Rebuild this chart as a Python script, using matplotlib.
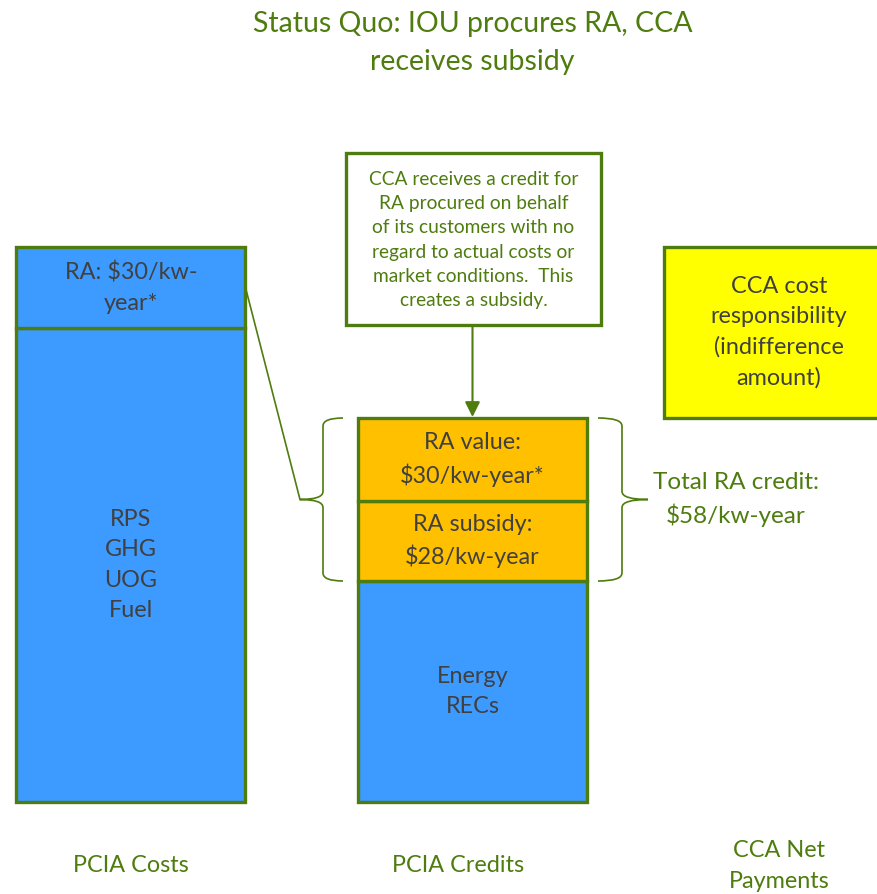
import matplotlib
matplotlib.use("Agg")
import matplotlib.pyplot as plt
from matplotlib.path import Path
from matplotlib.patches import PathPatch, Rectangle

plt.rcParams["font.family"] = ["Lato", "DejaVu Sans"]

# ── Data ─────────────────────────────────────────────────────────────
categories  = ["PCIA Costs", "PCIA Credits", "CCA Net\nPayments"]
cost_labels = ["RPS\nGHG\nUOG\nFuel", "RA: $30/kw-\nyear*"]
cost_values = [474, 81]
credit_labels = ["Energy\nRECs", "RA subsidy:\n$28/kw-year", "RA value:\n$30/kw-year*"]
credit_values = [221, 80, 83]
net_label = "CCA cost\nresponsibility\n(indifference\namount)"
title = "Status Quo: IOU procures RA, CCA\nreceives subsidy"
callout = ("CCA receives a credit for\nRA procured on behalf\nof its customers with no\n"
           "regard to actual costs or\nmarket conditions.  This\ncreates a subsidy.")
total_label = "Total RA credit:\n$58/kw-year"

# ── Styles ───────────────────────────────────────────────────────────
GREEN  = "#4E7C0E"
BLUE   = "#3D9AFF"
ORANGE = "#FFC000"
YELLOW = "#FFFF00"
GREY   = "#404040"
FS     = 16.8
LS     = 1.53
x_pos  = [131, 472.5, 779]
bar_w  = 229

fig = plt.figure(figsize=(8.78, 8.94), dpi=100)
ax = fig.add_axes([0, 0, 1, 1])
ax.set_xlim(0, 878)
ax.set_ylim(-92, 802)
ax.axis("off")

def stack(x, values, labels, colors):
    bottom = 0
    for v, lab, c in zip(values, labels, colors):
        ax.bar(x, v, bar_w, bottom=bottom, color=c, edgecolor=GREEN, linewidth=2.4)
        ax.text(x, bottom + v / 2, lab, ha="center", va="center", fontsize=FS,
                color=GREY, linespacing=LS)
        bottom += v
    return bottom

cost_total   = stack(x_pos[0], cost_values, cost_labels, [BLUE, BLUE])
credit_total = stack(x_pos[1], credit_values, credit_labels, [BLUE, ORANGE, ORANGE])

# waterfall: net = costs - credits
ax.bar(x_pos[2], cost_total - credit_total, bar_w, bottom=credit_total,
       color=YELLOW, edgecolor=GREEN, linewidth=2.4)
ax.text(x_pos[2], (cost_total + credit_total) / 2, net_label, ha="center", va="center",
        fontsize=FS, color=GREY, linespacing=LS)

# category labels
for x, c in zip([131, 458, 779], categories):
    ax.text(x, -64, c, ha="center", va="center", fontsize=FS, color=GREEN, linespacing=LS)

fig.text(0.538, 0.952, title, ha="center", va="center", fontsize=20.5, color=GREEN, linespacing=1.6)

# callout box + arrow
ax.add_patch(Rectangle((346, 477), 255, 172, facecolor="white", edgecolor=GREEN, linewidth=2.4))
ax.text(473.5, 562, callout, ha="center", va="center", fontsize=13.8, color=GREEN, linespacing=1.52)
ax.annotate("", xy=(x_pos[1], credit_total + 1), xytext=(x_pos[1], 477),
            arrowprops=dict(arrowstyle="-|>,head_length=0.9,head_width=0.45",
                            color=GREEN, lw=1.5, shrinkA=0, shrinkB=0))

# braces around the RA part of the credits bar
ra_lo, ra_hi = credit_values[0], credit_total
ra_mid = (ra_lo + ra_hi) / 2

def brace(xv, xend, xtip, y0, y1, r=8):
    ym = (y0 + y1) / 2
    verts = [(xend, y1), (xv, y1), (xv, y1 - r),
             (xv, ym + r), (xv, ym), (xtip, ym),
             (xv, ym), (xv, ym - r),
             (xv, y0 + r), (xv, y0), (xend, y0)]
    codes = [Path.MOVETO, Path.CURVE3, Path.CURVE3,
             Path.LINETO, Path.CURVE3, Path.CURVE3,
             Path.CURVE3, Path.CURVE3,
             Path.LINETO, Path.CURVE3, Path.CURVE3]
    ax.add_patch(PathPatch(Path(verts, codes), fill=False, edgecolor=GREEN, lw=1.2))

brace(323, 343, 300, ra_lo, ra_hi)
brace(622, 598, 648, ra_lo, ra_hi)

# connector from costs RA segment to left brace
ax.plot([x_pos[0] + bar_w / 2, 300],
        [cost_values[0] + cost_values[1] / 2, ra_mid], color=GREEN, lw=1.2)

ax.text(736, ra_mid, total_label, ha="center", va="center", fontsize=17.5,
        color=GREEN, linespacing=1.5)

fig.savefig("out.png", dpi=100)
